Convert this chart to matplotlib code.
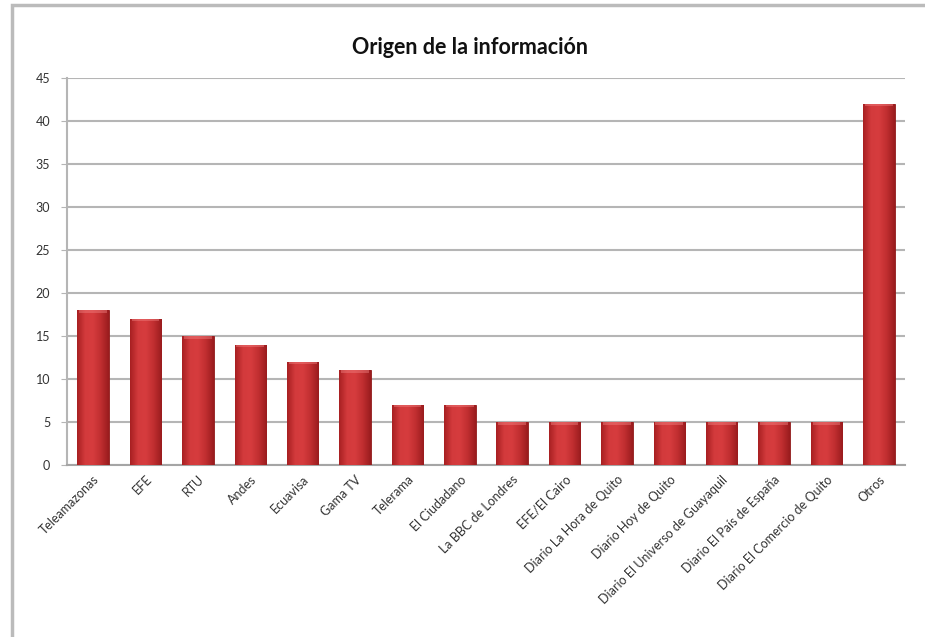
import numpy as np
import matplotlib
matplotlib.use("Agg")
import matplotlib.pyplot as plt
from matplotlib.patches import Rectangle
from matplotlib.colors import LinearSegmentedColormap

plt.rcParams['font.family'] = ['Lato', 'DejaVu Sans']

fuentes = ['Teleamazonas', 'EFE', 'RTU', 'Andes', 'Ecuavisa', 'Gama TV',
           'Telerama', 'El Ciudadano', 'La BBC de Londres', 'EFE/El Cairo',
           'Diario La Hora de Quito', 'Diario Hoy de Quito',
           'Diario El Universo de Guayaquil', 'Diario El País de España',
           'Diario El Comercio de Quito', 'Otros']
valores = [18, 17, 15, 14, 12, 11, 7, 7, 5, 5, 5, 5, 5, 5, 5, 42]

fig = plt.figure(figsize=(9.25, 6.37), dpi=100)
# chart frame like the spreadsheet border
fig.patches.append(Rectangle((12/925, -0.05), 1.0, 1 - 5/637 + 0.05,
                             transform=fig.transFigure, fill=False,
                             edgecolor='#BBBBBB', linewidth=2.5))
ax = fig.add_axes([67/925, 1 - 465/637, (905 - 67)/925, (465 - 78)/637])

x = np.arange(len(fuentes))
bars = ax.bar(x, valores, width=0.6, color='#C83030', edgecolor='#8E1A1A',
              linewidth=0.6, zorder=3)

# horizontal shading inside each bar
cmap = LinearSegmentedColormap.from_list('rojo', ['#A82022', '#D33A3C', '#D63C3E', '#C02E30', '#9A1C1E'])
grad = np.linspace(0, 1, 64).reshape(1, -1)
for b in bars:
    x0, w, h = b.get_x(), b.get_width(), b.get_height()
    im = ax.imshow(grad, cmap=cmap, aspect='auto', extent=[x0, x0 + w, 0, h],
                   zorder=3.5)
    im.set_clip_path(b)
    # soft highlight at the top edge
    ax.add_patch(Rectangle((x0 + w*0.06, h - 0.3), w*0.88, 0.3,
                           facecolor='#F08080', edgecolor='none', alpha=0.45,
                           zorder=4))

ax.set_xlim(-0.5, len(fuentes) - 0.5)
ax.set_ylim(0, 45)
ax.set_yticks(range(0, 46, 5))
ax.grid(axis='y', color='#B5B5B5', linewidth=1.5, zorder=0)
ax.set_axisbelow(True)
for s in ['top', 'right']:
    ax.spines[s].set_visible(False)
ax.spines['left'].set_color('#B5B5B5')
ax.spines['left'].set_linewidth(1.5)
ax.spines['bottom'].set_color('#A5A5A5')
ax.spines['bottom'].set_linewidth(1.5)
ax.tick_params(axis='y', length=4, color='#B5B5B5', labelsize=9, labelcolor='#333333', pad=8)
ax.tick_params(axis='x', length=0, labelsize=9, labelcolor='#333333', pad=6)
ax.set_xticks(x)
ax.set_xticklabels(fuentes, rotation=45, ha='right', rotation_mode='anchor')

fig.text(470/925, 1 - 48/637, 'Origen de la información', ha='center', va='center',
         fontsize=15.5, fontweight='bold', color='#111111')

fig.savefig('out.png', dpi=100)
